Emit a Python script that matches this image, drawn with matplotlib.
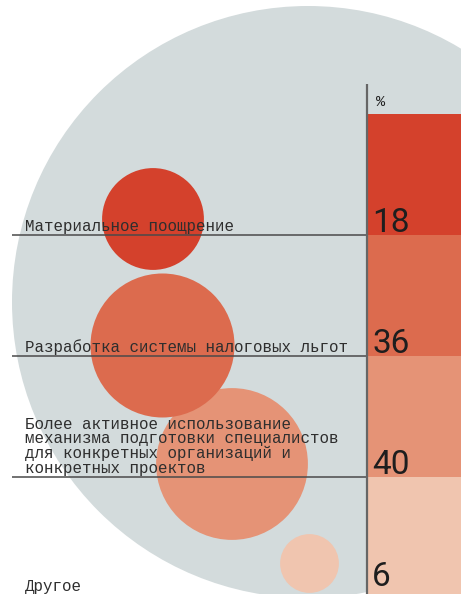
import numpy as np
import matplotlib
matplotlib.use("Agg")
import matplotlib.pyplot as plt
from matplotlib.patches import Circle
from matplotlib import font_manager

# Survey answers, share of respondents in %
categories = [
    "Материальное поощрение",
    "Разработка системы налоговых льгот",
    "Более активное использование\nмеханизма подготовки специалистов\nдля конкретных организаций и\nконкретных проектов",
    "Другое",
]
values = [18, 36, 40, 6]
unit_label = "%"
colors = ["#D4412C", "#DC6B4E", "#E59376", "#F0C5AF"]

# Layout (pixel canvas)
W, H = 461, 594
split_x = 367          # vertical rule between labels and value column
row_top = 114
row_h = 121
bubble_centers = [(153, 219), (162.5, 345.5), (232, 464), (309.5, 563.5)]
px_per_sqrt_pct = 12.0  # bubble area proportional to value

installed = {f.name for f in font_manager.fontManager.ttflist}
label_font = ["Liberation Mono", "DejaVu Sans Mono"]
if "Liberation Sans Narrow" in installed:
    num_font, num_size = ["Liberation Sans Narrow", "DejaVu Sans"], 26
else:
    num_font, num_size = ["Roboto", "DejaVu Sans"], 24

fig = plt.figure(figsize=(W / 100, H / 100), dpi=100)
ax = fig.add_axes([0, 0, 1, 1])
ax.set_xlim(0, W)
ax.set_ylim(H, 0)
ax.axis("off")

# backdrop disc
ax.add_patch(Circle((308, 302), 296, facecolor="#D3DBDC", lw=0, zorder=0))

bounds = row_top + row_h * np.arange(len(values) + 1)

# value column blocks
ax.barh(bounds[:-1], W - split_x + 5, height=row_h, left=split_x,
        align="edge", color=colors, lw=0, zorder=1)

# bubbles (drawn back to front so upper ones overlap lower ones)
for v, c, (cx, cy) in list(zip(values, colors, bubble_centers))[::-1]:
    ax.add_patch(Circle((cx, cy), px_per_sqrt_pct * np.sqrt(v),
                        facecolor=c, lw=0, zorder=2))

# separators
for y in bounds[1:-1]:
    ax.plot([12, split_x], [y, y], color="#4A4A4A", lw=1.1, zorder=3,
            solid_capstyle="butt")
ax.plot([split_x, split_x], [84, H], color="#666666", lw=1.6, zorder=4,
        solid_capstyle="butt")

ax.text(376, 106, unit_label, fontsize=11, family=label_font,
        color="#222222", zorder=5)

last = len(values) - 1
for i, (lab, v) in enumerate(zip(categories, values)):
    base = bounds[i + 1]
    ax.text(25, min(base - 4, 591), lab, fontsize=11.4, family=label_font,
            color="#2E2E2E", va="baseline", ha="left", linespacing=0.98,
            zorder=5)
    if i < last:
        ax.text(372, base - 3, str(v), fontsize=num_size, family=num_font,
                color="#1E1E1E", va="baseline", ha="left", zorder=5)
    else:
        ax.text(372, H - 1, str(v), fontsize=num_size, family=num_font,
                color="#1E1E1E", va="bottom", ha="left", zorder=5)

fig.savefig("out.png", dpi=100)
